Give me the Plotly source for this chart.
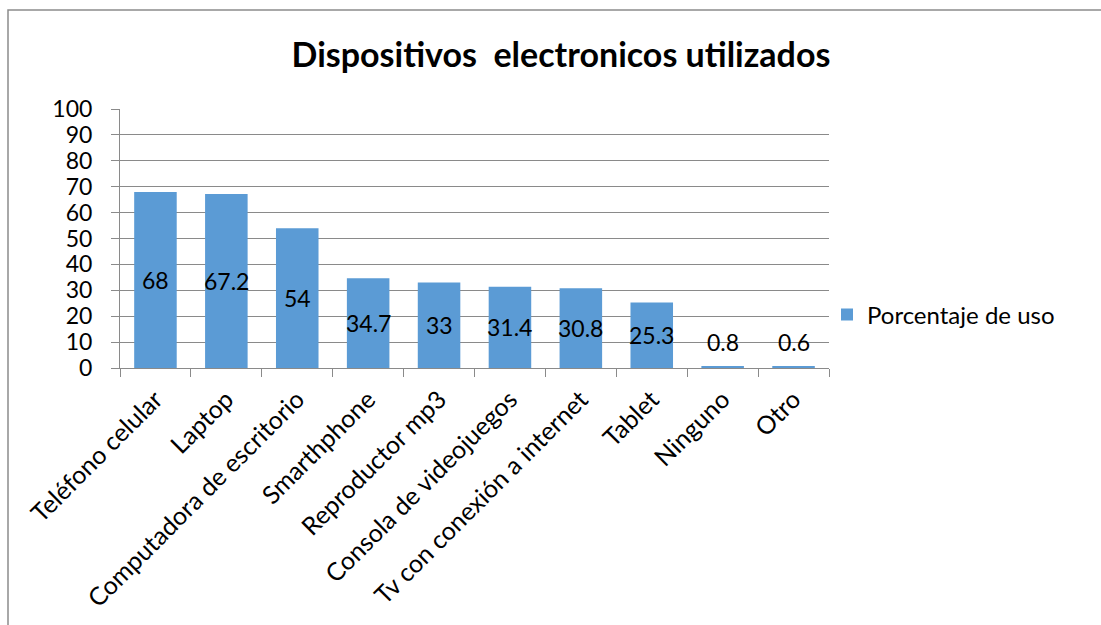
import plotly.graph_objects as go

# Chart data
categories = [
    "Teléfono celular", "Laptop", "Computadora de escritorio", "Smarthphone",
    "Reproductor mp3", "Consola de videojuegos", "Tv con conexión a internet",
    "Tablet", "Ninguno", "Otro",
]
porcentaje_de_uso = [68, 67.2, 54, 34.7, 33, 31.4, 30.8, 25.3, 0.8, 0.6]
y_ticks = [0, 10, 20, 30, 40, 50, 60, 70, 80, 90, 100]

W, H = 1101, 625
M_L, M_R, M_T, M_B = 120, 272, 109, 257
FONT = "Lato, Calibri, Carlito, sans-serif"
BAR = "#5B9BD5"
GRID = "#8A8A8A"

fig = go.Figure()
fig.add_trace(go.Bar(
    x=categories,
    y=porcentaje_de_uso,
    name="Porcentaje de uso",
    marker=dict(color=BAR, line=dict(width=0)),
    showlegend=True,
))

# Value labels centred in each bar (kept clear of the axis for tiny bars)
for cat, v in zip(categories, porcentaje_de_uso):
    fig.add_annotation(
        x=cat, y=max(v / 2, 10), text=f"{v:g}", showarrow=False,
        xanchor="center", yanchor="middle",
        font=dict(family=FONT, size=23, color="#000000"),
    )

# Outer chart border
pw = W - M_L - M_R
ph = H - M_T - M_B
fig.add_shape(
    type="rect", xref="paper", yref="paper",
    x0=(8 - M_L) / pw, x1=(W + 10 - M_L) / pw,
    y0=(H - (H + 10) - M_B) / ph, y1=(H - 10 - M_B) / ph,
    line=dict(color="#8C8C8C", width=1.5), fillcolor="rgba(0,0,0,0)",
    layer="below",
)

fig.update_layout(
    width=W, height=H,
    margin=dict(l=M_L, r=M_R, t=M_T, b=M_B, pad=0),
    paper_bgcolor="white", plot_bgcolor="white",
    bargap=0.4,
    title=dict(
        text="<b>Dispositivos  electronicos utilizados</b>",
        x=(561) / W, xanchor="center", y=1 - 55 / H, yanchor="middle",
        font=dict(family=FONT, size=34, color="#000000"),
    ),
    legend=dict(
        x=(827 - M_L) / pw, xanchor="left",
        y=(H - 315 - M_B) / ph, yanchor="middle",
        font=dict(family=FONT, size=24, color="#000000"),
        bgcolor="rgba(0,0,0,0)", itemwidth=30,
    ),
    xaxis=dict(
        type="category",
        tickangle=-45,
        tickson="boundaries",
        ticks="outside", ticklen=8, tickcolor=GRID, tickwidth=1,
        showline=True, linecolor=GRID, linewidth=1,
        showgrid=False,
        ticklabelstandoff=6,
        tickfont=dict(family=FONT, size=25, color="#000000"),
    ),
    yaxis=dict(
        range=[0, 100],
        tickvals=y_ticks,
        ticks="outside", ticklen=8, tickcolor=GRID, tickwidth=1,
        showline=True, linecolor=GRID, linewidth=1,
        showgrid=True, gridcolor=GRID, gridwidth=1,
        zeroline=False,
        ticklabelstandoff=14,
        tickfont=dict(family=FONT, size=23, color="#000000"),
    ),
    font=dict(family=FONT),
)

fig.write_html("out.html")
